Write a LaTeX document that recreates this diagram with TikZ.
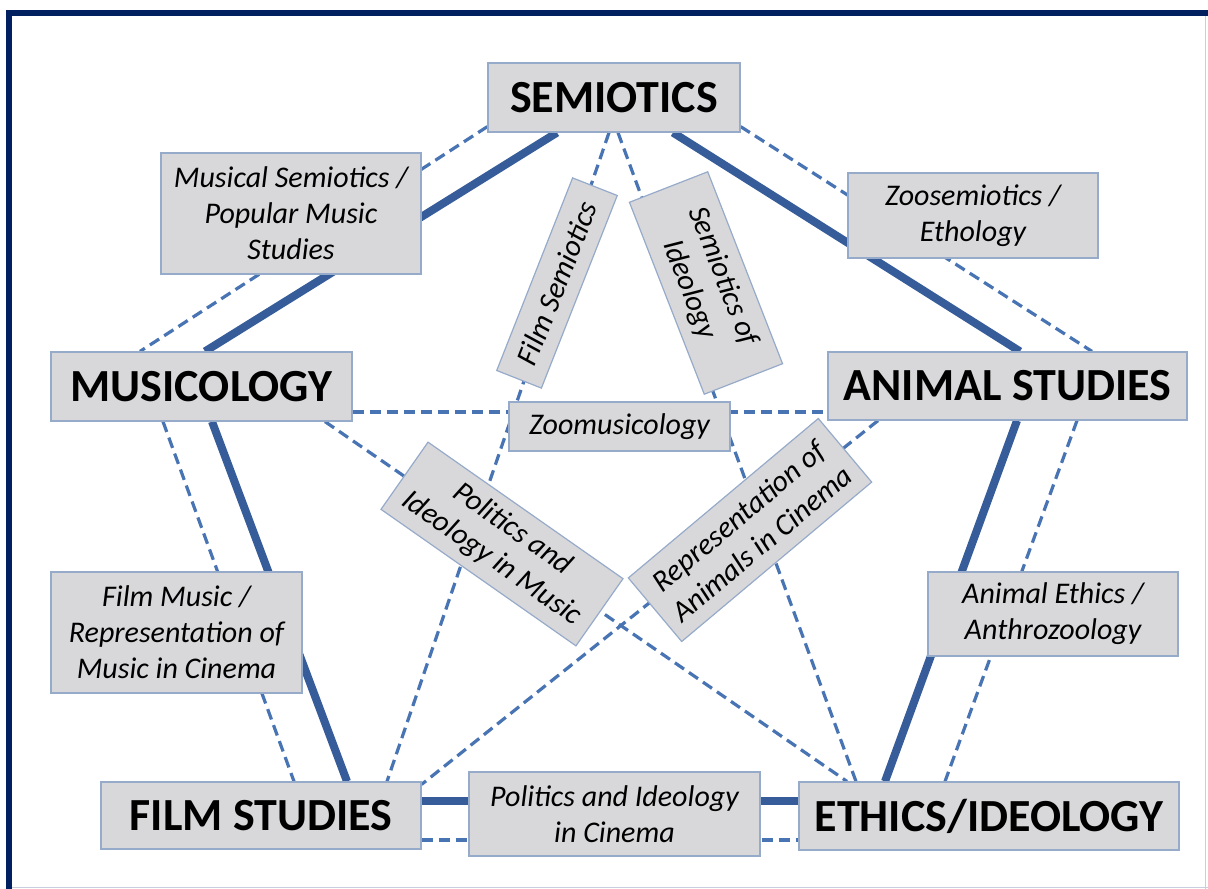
\documentclass[tikz,border=0pt]{standalone}
\usepackage{fontspec}
\setmainfont{Carlito}
\usetikzlibrary{calc}
\definecolor{navy}{RGB}{0,32,96}
\definecolor{thickc}{RGB}{54,92,153}
\definecolor{dashc}{RGB}{72,116,180}
\definecolor{boxfill}{RGB}{216,216,218}
\definecolor{boxdraw}{RGB}{150,170,202}
\definecolor{edgec}{RGB}{200,206,222}
\pgfdeclarelayer{bg}
\pgfdeclarelayer{links}
\pgfsetlayers{bg,links,main}
\begin{document}
\begin{tikzpicture}[x=1pt,y=-1pt,
  mainbox/.style={draw=boxdraw,line width=1.2pt,fill=boxfill,inner sep=0pt,align=center,
    font=\fontsize{46}{50}\selectfont\bfseries},
  subbox/.style={draw=boxdraw,line width=1.2pt,fill=boxfill,inner sep=0pt,align=center,
    font=\fontsize{30}{36}\selectfont\itshape},
  strong/.style={draw=thickc,line width=8pt},
  weak/.style={draw=dashc,line width=3.2pt,dash pattern=on 11pt off 6pt}]
\useasboundingbox (0,0) rectangle (1208,889);

% main nodes
\node[mainbox,minimum width=252pt,minimum height=69pt] (sem) at (614,97.5) {SEMIOTICS};
\node[mainbox,minimum width=301pt,minimum height=69pt] (mus) at (201.5,386.5) {MUSICOLOGY};
\node[mainbox,minimum width=359pt,minimum height=68pt] (ani) at (1007.5,386) {ANIMAL STUDIES};
\node[mainbox,minimum width=320pt,minimum height=67pt] (film) at (261,815.5) {FILM STUDIES};
\node[mainbox,minimum width=380pt,minimum height=68pt] (eth) at (989,816) {ETHICS/IDEOLOGY};

% label nodes
\node[subbox,minimum width=260pt,minimum height=121pt] (musem) at (291,213.5) {Musical Semiotics /\\Popular Music\\Studies};
\node[subbox,minimum width=250pt,minimum height=85pt] (zoosem) at (973,215.5) {Zoosemiotics /\\Ethology};
\node[subbox,minimum width=251pt,minimum height=121pt] (filmmus) at (176.5,632.5) {Film Music /\\Representation of\\Music in Cinema};
\node[subbox,minimum width=250pt,minimum height=84pt] (animeth) at (1053,614) {Animal Ethics /\\Anthrozoology};
\node[subbox,minimum width=291pt,minimum height=84pt] (polcin) at (614.5,814) {Politics and Ideology\\in Cinema};
\node[subbox,minimum width=221pt,minimum height=49pt] (zoomus) at (619.5,426.5) {Zoomusicology};
\node[subbox,rotate=68.5,minimum width=207pt,minimum height=48pt] (fsem) at (557,283) {Film Semiotics};
\node[subbox,rotate=-68.7,minimum width=206pt,minimum height=84pt] (sid) at (706,283) {Semiotics of\\Ideology};
\node[subbox,rotate=-35,minimum width=238pt,minimum height=82pt] (polmus) at (502,544) {Politics and\\Ideology in Music};
\node[subbox,rotate=40,minimum width=248pt,minimum height=83pt] (repr) at (750,530) {Representation of\\Animals in Cinema};

\begin{pgfonlayer}{bg}
  \fill[white] (0,0) rectangle (1208,889);
  \draw[edgec,line width=1.5pt] (1205.5,16) -- (1205.5,889);
  \draw[edgec,line width=1.5pt] (12,887.5) -- (1208,887.5);
  \draw[navy,line width=6pt] (6,13) -- (1208,13);
  \draw[navy,line width=6pt] (9,10) -- (9,889);
\end{pgfonlayer}

\begin{pgfonlayer}{links}
  % pentagon: dashed companions
  \draw[weak] ($(sem.south west)+(0,-6)$) -- ($(mus.north)+(-61.5,0)$);
  \draw[weak] ($(sem.south east)+(0,-6)$) -- ($(ani.north)+(84.5,0)$);
  \draw[weak] ($(mus.south)+(-38.5,0)$) -- ($(film.north)+(33,0)$);
  \draw[weak] ($(ani.south)+(69.5,0)$) -- ($(eth.north)+(-44,0)$);
  \draw[weak] ($(film.east)+(0,24.5)$) -- ($(eth.west)+(0,24)$);
  % star diagonals
  \draw[weak] ($(sem.south)+(-5,0)$) -- ($(film.north)+(126,0)$);
  \draw[weak] ($(sem.south)+(4,0)$) -- ($(eth.north)+(-133,0)$);
  \draw[weak] ($(mus.east)+(0,25.5)$) -- ($(ani.west)+(0,26)$);
  \draw[weak] ($(mus.south)+(123.5,0)$) -- ($(eth.north)+(-142,0)$);
  \draw[weak] ($(ani.south)+(-129.5,0)$) -- ($(film.north east)+(0,3)$);
  % pentagon: thick lines
  \draw[strong] ($(sem.south)+(-57,0)$) -- ($(mus.north)+(3.5,0)$);
  \draw[strong] ($(sem.south)+(59,0)$) -- ($(ani.north)+(12.5,0)$);
  \draw[strong] ($(mus.south)+(10.5,0)$) -- ($(film.north)+(86,0)$);
  \draw[strong] ($(ani.south)+(9.5,0)$) -- ($(eth.north)+(-104,0)$);
  \draw[strong] ($(film.east)+(0,-14.5)$) -- ($(eth.west)+(0,-15)$);
\end{pgfonlayer}
\end{tikzpicture}
\end{document}
